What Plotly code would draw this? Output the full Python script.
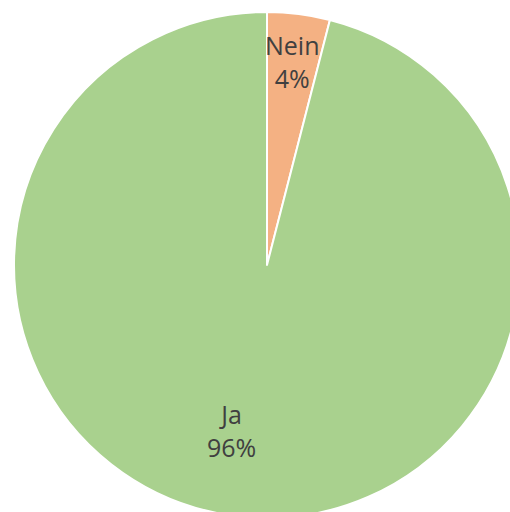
import math
import plotly.graph_objects as go

# Survey answers
labels = ["Nein", "Ja"]
values = [4, 96]
colors = ["#F4B183", "#A9D18E"]

# Canvas slightly larger than the viewport so the disc is clipped at right/bottom
W, H = 520, 518
cx, cy, R = 267, 265, 253  # pixel centre and radius of the disc

fig = go.Figure(
    go.Pie(
        labels=labels,
        values=values,
        sort=False,
        direction="clockwise",
        rotation=0,
        marker=dict(colors=colors, line=dict(color="white", width=2)),
        textinfo="none",
        hoverinfo="label+percent",
        domain=dict(x=[(cx - R) / W, (cx + R) / W], y=[(H - cy - R) / H, (H - cy + R) / H]),
    )
)

# Data labels placed along each slice's direction
label_polar = [(0.81, None), (0.67, 192.0)]  # (radius fraction, angle override in degrees)
total = sum(values)
start = 0.0
for lab, val, (rf, ang) in zip(labels, values, label_polar):
    frac = val / total
    mid = (start + frac / 2) * 360.0
    start += frac
    a = math.radians(ang if ang is not None else mid)
    px = cx + rf * R * math.sin(a)
    py = cy - rf * R * math.cos(a)
    fig.add_annotation(
        x=px / W,
        y=1 - py / H,
        xref="paper",
        yref="paper",
        xanchor="center",
        yanchor="middle",
        text=f"{lab}<br>{round(frac * 100)}%",
        showarrow=False,
        font=dict(family="Open Sans", size=25, color="#404040"),
        align="center",
    )

fig.update_layout(
    width=W,
    height=H,
    margin=dict(l=0, r=0, t=0, b=0),
    showlegend=False,
    paper_bgcolor="white",
    plot_bgcolor="white",
)

fig.write_html(
    "out.html",
    post_script="document.body.style.margin='0';document.body.style.overflow='hidden';"
    "document.documentElement.style.overflow='hidden';",
)
